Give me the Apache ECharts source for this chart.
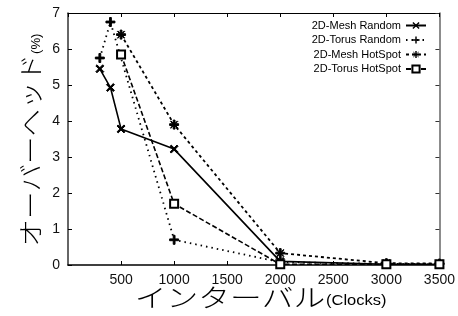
<!DOCTYPE html>
<html><head><meta charset="utf-8">
<script src="https://cdn.jsdelivr.net/npm/echarts@6/dist/echarts.min.js"></script>
<style>html,body{margin:0;padding:0;background:#fff}#c{width:458px;height:316px}</style>
</head><body><div id="c"></div>
<script>
const seriesNames = ['2D-Mesh Random', '2D-Torus Random', '2D-Mesh HotSpot', '2D-Torus HotSpot'];
const meshRandomX = [300, 400, 500, 1000, 2000, 3000, 3500];
const meshRandomY = [5.45, 4.93, 3.78, 3.22, 0.1, 0.02, 0.02];
const torusRandomX = [300, 400, 1000, 2000, 3000, 3500];
const torusRandomY = [5.75, 6.75, 0.7, 0.08, 0.03, 0.03];
const meshHotX = [500, 1000, 2000, 3000, 3500];
const meshHotY = [6.4, 3.9, 0.33, 0.05, 0.04];
const torusHotX = [500, 1000, 2000, 3000, 3500];
const torusHotY = [5.85, 1.7, 0.02, 0.02, 0.02];
const xTicks = [0, 500, 1000, 1500, 2000, 2500, 3000, 3500];
const yTicks = [0, 1, 2, 3, 4, 5, 6, 7];

const pair = (xs, ys) => xs.map((x, i) => [x, ys[i]]);
const symX = 'path://M0,1.4L1.4,0L10,8.6L8.6,10Z M8.6,0L10,1.4L1.4,10L0,8.6Z';
const symPlus = 'path://M4,0H6V4H10V6H6V10H4V6H0V4H4Z';
const symStar = 'path://M4,0H6V3.5L8.6,0.9L9.1,1.4L6.5,4H10V6H6.5L9.1,8.6L8.6,9.1L6,6.5V10H4V6.5L1.4,9.1L0.9,8.6L3.5,6H0V4H3.5L0.9,1.4L1.4,0.9L4,3.5Z';

const chart = echarts.init(document.getElementById('c'), null, {renderer: 'canvas'});
const tickFont = {fontFamily: 'Liberation Sans, Arial', fontSize: 14, color: '#111'};
const mk = (name, data, symbol, size, lineType, width, extra) => Object.assign({
  name, type: 'line', data, symbol, symbolSize: size, showSymbol: true,
  lineStyle: {color: '#000', width: width, type: lineType},
  itemStyle: {color: '#000', borderColor: '#000'},
  animation: false
}, extra || {});

chart.setOption({
  animation: false,
  grid: {left: 68, right: 18, top: 13, bottom: 51, show: false},
  legend: {
    orient: 'vertical', right: 26, top: 15, align: 'right',
    itemWidth: 20, itemHeight: 9, itemGap: 3.5,
    textStyle: {fontFamily: 'Liberation Sans Narrow, Arial Narrow, Liberation Sans', fontSize: 11, color: '#000'},
    data: seriesNames
  },
  xAxis: [{
    type: 'value', min: 0, max: 3500, interval: 500,
    axisLine: {show: true, lineStyle: {color: '#000', width: 1.5}},
    axisTick: {show: true, inside: true, length: 4, lineStyle: {color: '#000'}},
    axisLabel: Object.assign({margin: 8, showMinLabel: false, formatter: v => xTicks.includes(v) ? String(v) : ''}, tickFont),
    splitLine: {show: false}
  }, {
    type: 'value', position: 'top', min: 0, max: 3500, interval: 500,
    axisLine: {show: true, onZero: false, lineStyle: {color: '#000', width: 1}},
    axisTick: {show: true, inside: true, length: 4, lineStyle: {color: '#000'}},
    axisLabel: {show: false}, splitLine: {show: false}
  }],
  yAxis: [{
    type: 'value', min: 0, max: 7, interval: 1,
    axisLine: {show: true, lineStyle: {color: '#333', width: 1.5}},
    axisTick: {show: true, inside: true, length: 4, lineStyle: {color: '#000'}},
    axisLabel: Object.assign({margin: 8, formatter: v => yTicks.includes(v) ? String(v) : ''}, tickFont),
    splitLine: {show: false}
  }, {
    type: 'value', position: 'right', min: 0, max: 7, interval: 1,
    axisLine: {show: true, onZero: false, lineStyle: {color: '#666', width: 1.5}},
    axisTick: {show: true, inside: true, length: 4, lineStyle: {color: '#333'}},
    axisLabel: {show: false}, splitLine: {show: false}
  }],
  series: [
    mk(seriesNames[0], pair(meshRandomX, meshRandomY), symX, 8, 'solid', 1.6),
    mk(seriesNames[1], pair(torusRandomX, torusRandomY), symPlus, 9, [1.5, 4], 1.8),
    mk(seriesNames[2], pair(meshHotX, meshHotY), symStar, 9, [3, 3], 1.8),
    mk(seriesNames[3], pair(torusHotX, torusHotY), 'rect', 8, [5, 2.5], 1.6,
       {itemStyle: {color: '#fff', borderColor: '#000', borderWidth: 2}})
  ],
  graphic: [
    {
      type: 'text', x: 30, y: 140, rotation: Math.PI / 2, scaleX: 1.1, z: 10,
      style: {
        text: '{a|オーバーヘッド}{b|(%)}', align: 'center', verticalAlign: 'middle',
        rich: {
          a: {fontFamily: 'Noto Sans CJK JP', fontSize: 25, fontWeight: 300, fill: '#000'},
          b: {fontFamily: 'Liberation Sans, Arial', fontSize: 12, fill: '#000', verticalAlign: 'bottom'}
        }
      }
    },
    {
      type: 'text', x: 230, y: 297, scaleX: 1.27, z: 10,
      style: {
        text: 'インターバル', align: 'center', verticalAlign: 'middle',
        fontFamily: 'Noto Sans CJK JP', fontSize: 25, fontWeight: 300, fill: '#000'
      }
    },
    {
      type: 'text', x: 326, y: 301, scaleX: 1.1, z: 10,
      style: {
        text: '(Clocks)', align: 'left', verticalAlign: 'middle',
        fontFamily: 'Liberation Sans, Arial', fontSize: 15, fill: '#000'
      }
    }
  ]
});
</script></body></html>
